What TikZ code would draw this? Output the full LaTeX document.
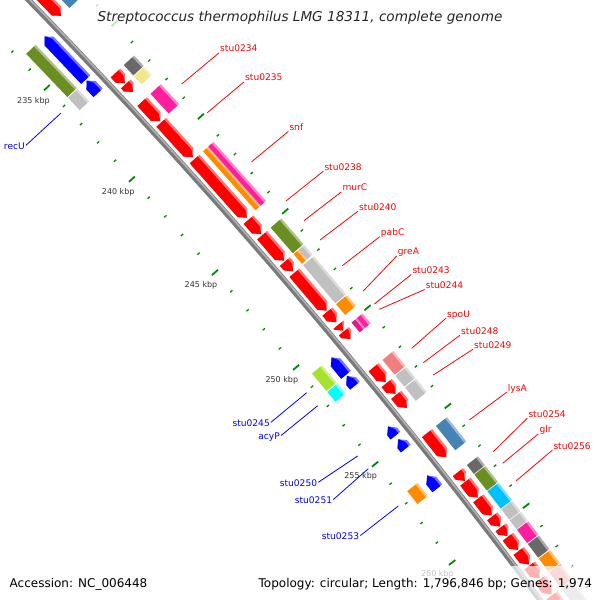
\documentclass[tikz,border=0pt]{standalone}
\usepackage{fontspec}
\setmainfont{DejaVu Sans}
\usetikzlibrary{math}

\definecolor{genered}{HTML}{FF0000}
\definecolor{geneblue}{HTML}{0000FF}
\definecolor{cogsteel}{HTML}{4682B4}
\definecolor{cogdim}{HTML}{696969}
\definecolor{cogkhaki}{HTML}{F0E68C}
\definecolor{cogpink}{HTML}{FF1E9E}
\definecolor{cogmagenta}{HTML}{E0188C}
\definecolor{cogorange}{HTML}{FF8C00}
\definecolor{cogolive}{HTML}{6B8E23}
\definecolor{cogsilver}{HTML}{C0C0C0}
\definecolor{cogcoral}{HTML}{F08080}
\definecolor{cogsky}{HTML}{00BFFF}
\definecolor{coglime}{HTML}{A6E22E}
\definecolor{cogcyan}{HTML}{00FFFF}
\definecolor{tickgreen}{HTML}{008A00}

\tikzset{
	genome map/.cd,
	backbone/.style = {
		line width = 5.5pt,
		color = black!52
	},
	highlight/.style = {
		line width = 1.6pt,
		color = black!30
	},
	tick/.style = {
		tickgreen,
		line cap = butt
	},
	kbp/.style = {
		font = \fontsize{8}{9}\selectfont,
		text = black!80,
		inner sep = 0.5pt,
		text height = 6pt,
		text depth = 0pt,
		fill = white,
		fill opacity = 0.6,
		text opacity = 1
	},
	fwdlabel/.style = {
		font = \fontsize{9.1}{11}\selectfont,
		text = red,
		inner sep = 1pt,
		text height = 6.6pt,
		text depth = 0pt,
		anchor = base west
	},
	revlabel/.style = {
		font = \fontsize{9.1}{11}\selectfont,
		text = blue,
		inner sep = 1pt,
		text height = 7.5pt,
		text depth = 0pt,
		anchor = base east
	},
	fwdleader/.style = {red, line width = 0.8pt},
	revleader/.style = {blue, line width = 0.8pt},
}

% point on the map: kbp, offset from the backbone
\newcommand\gp[3]{%
	\tikzmath{
		\ga = (#2 - \kref) * \kstep - \aref;
		\gx = \xc + (\rad + (#3)) * (\ga - \ga * \ga * \ga / 6);
		\gy = \yc + (#3) - (\rad + (#3)) * \ga * \ga / 2;
	}%
	\coordinate (#1) at (\gx, \gy);%
}

% gene arrow: start, end, inner, outer, strand, colour
\newcommand\garrow[6]{%
	\tikzmath{
		\gtl = min(\tiplen, (#2) - (#1));
		\gdm = ((#3) + (#4)) / 2;
		\gdl = (#4) - \bevel;
		if #5 > 0 then {
			\gtp = #2; \gbs = #1; \gsh = (#2) - \gtl;
		} else {
			\gtp = #1; \gbs = #2; \gsh = (#1) + \gtl;
		};
	}%
	\gp{ga1}{\gbs}{#3}\gp{ga2}{\gsh}{#3}\gp{ga3}{\gtp}{\gdm}%
	\gp{ga4}{\gsh}{#4}\gp{ga5}{\gbs}{#4}%
	\gp{gb4}{\gsh}{\gdl}\gp{gb5}{\gbs}{\gdl}%
	\fill[#6!55!white] (ga1) -- (ga2) -- (ga3) -- (ga4) -- (ga5) -- cycle;
	\fill[#6] (ga1) -- (ga2) -- (ga3) -- (gb4) -- (gb5) -- cycle;
}

% COG box: start, end, inner, outer, colour
\newcommand\gbox[5]{%
	\tikzmath{
		\gdl = (#4) - \bevel;
	}%
	\gp{gc1}{#1}{#3}\gp{gc2}{#2}{#3}\gp{gc3}{#2}{#4}\gp{gc4}{#1}{#4}%
	\gp{gd3}{#2}{\gdl}\gp{gd4}{#1}{\gdl}%
	\fill[#5!55!white] (gc1) -- (gc2) -- (gc3) -- (gc4) -- cycle;
	\fill[#5] (gc1) -- (gc2) -- (gd3) -- (gd4) -- cycle;
}

\begin{document}
\begin{tikzpicture}[x = 1pt, y = -1pt]
		\def\kref{235}
		\def\kstep{0.0041915}
		\def\aref{0.05302}
		\def\rad{6000}
		\def\xc{394.2}
		\def\yc{12.95}
		\def\tiplen{0.26}
		\def\bevel{2.5}
		\def\dinner{-47.5}
		\def\douter{45.7}
		\useasboundingbox (0, 0) rectangle (600, 600);
		\clip (0, 0) rectangle (600, 600);
		\begin{scope}[shift = {(28.5, 0)}, rotate = -49.55, y = 1pt]
			% ticks, every kbp
			\foreach \k in {228, ..., 268}{
				\tikzmath{
					int \m;
					\m = mod(\k, 5);
					if \m == 0 then { \tl = 8; \tw = 1.8; } else { \tl = 3; \tw = 1.3; };
				}
				\gp{tia}{\k}{\dinner - \tl / 2}
				\gp{tib}{\k}{\dinner + \tl / 2}
				\gp{toa}{\k}{\douter - \tl / 2}
				\gp{tob}{\k}{\douter + \tl / 2}
				\draw[genome map/tick, line width = \tw pt] (tia) -- (tib) (toa) -- (tob);
			}
			% backbone
			\foreach \k in {228, ..., 268}{
				\gp{bb\k}{\k}{0}
				\gp{bh\k}{\k}{1.2}
			}
			\draw[genome map/backbone] (bb228) \foreach \k in {229, ..., 268}{ -- (bb\k)};
			\draw[genome map/highlight] (bh228) \foreach \k in {229, ..., 268}{ -- (bh\k)};
			% forward strand, with COG box
			\foreach \ks/\ke/\cog in {230.4/233.32/cogsteel, 236.45/237.0/cogdim, 237.05/237.48/cogkhaki,
				238.0/239.06/cogpink, 245.12/246.45/cogolive, 247.08/249.05/cogsilver, 249.1/249.65/cogorange,
				251.97/252.72/cogcoral, 252.78/253.33/cogsilver, 253.38/254.05/cogsilver, 255.33/256.55/cogsteel,
				257.3/257.74/cogdim, 257.78/258.58/cogolive, 258.62/259.48/cogsky, 259.52/260.03/cogsilver,
				260.07/260.5/cogsilver, 260.54/261.2/cogpink, 261.25/261.92/cogdim, 261.97/262.6/cogorange,
				262.65/263.4/cogcoral, 263.45/264.4/cogsilver}{
				\garrow{\ks}{\ke}{6}{19}{1}{genered}
				\gbox{\ks}{\ke}{24}{38}{\cog}
			}
			% forward strand, no COG
			\foreach \ks/\ke in {239.12/240.98, 244.3/245.06, 249.78/250.08}{
				\garrow{\ks}{\ke}{6}{19}{1}{genered}
			}
			% forward strand, two COG classes
			\garrow{241.08}{244.2}{6}{19}{1}{genered}
			\gbox{241.08}{244.2}{24}{31}{cogorange}
			\gbox{241.08}{244.2}{31}{38}{cogpink}
			\garrow{246.5}{247.0}{6}{19}{1}{genered}
			\gbox{246.5}{247.0}{24}{31}{cogorange}
			\gbox{246.5}{247.0}{31}{38}{cogsilver}
			\garrow{250.12}{250.52}{6}{19}{1}{genered}
			\gbox{250.05}{250.55}{24}{31}{cogmagenta}
			\gbox{250.05}{250.55}{31}{38}{cogpink}
			% reverse strand, with COG box
			\foreach \ks/\ke/\cog in {233.45/235.83/cogolive, 235.88/236.55/cogsilver, 250.6/251.5/coglime,
				251.56/252.06/cogcyan, 256.65/257.3/cogorange}{
				\garrow{\ks}{\ke}{-20}{-7.5}{-1}{geneblue}
				\gbox{\ks}{\ke}{-39}{-26}{\cog}
			}
			% reverse strand, no COG
			\foreach \ks/\ke in {254.15/254.62, 254.8/255.28}{
				\garrow{\ks}{\ke}{-20}{-7.5}{-1}{geneblue}
			}
			% scale labels
			\foreach \k in {235, 240, ..., 260}{
				\gp{kl}{\k}{-66}
				\node[genome map/kbp] (kbp\k) at (kl) {\k\ kbp};
			}
		\end{scope}
		% gene labels
		\foreach \name/\lx/\ly/\px/\py in {stu0234/219/51.7/181.7/84, stu0235/244/80.7/207.3/112.7,
			snf/288.3/130.3/251.7/161.7, stu0238/323.3/170/286/201, murC/341.3/190.7/304/220.7,
			stu0240/358/210/320/240, pabC/379.7/235.5/342.3/265.7, greA/396.7/254.8/363.3/291,
			stu0243/411.3/273.3/374.3/304, stu0244/424.7/288.3/379.3/309.3, spoU/446/317/411.7/348.3,
			stu0248/460/334/423.3/362.7, stu0249/473/348/433.3/375, lysA/506.7/391/469.3/420,
			stu0254/527.3/417/493.3/451.7, glr/538.3/432.7/502.7/463.3, stu0256/552.3/449/516/481}{
			\node[genome map/fwdlabel] (l-\name) at (\lx, \ly) {\name};
			\coordinate (p-\name) at (\px, \py);
			\draw[genome map/fwdleader] (l-\name.south west) -- (p-\name);
		}
		\foreach \name/\lx/\ly/\px/\py in {recU/26/149/60.7/113.3, stu0245/271/426/306.7/392.7,
			acyP/281/439.3/317.7/405.7, stu0250/318.3/486/357.7/456, stu0251/333.3/503.3/368.3/468.7,
			stu0253/360.3/539.3/398.3/506}{
			\node[genome map/revlabel] (l-\name) at (\lx, \ly) {\name};
			\coordinate (p-\name) at (\px, \py);
			\draw[genome map/revleader] (l-\name.east) -- (p-\name);
		}
		% title and legend
		\fill[white, opacity = 0.75] (90, 0) rectangle (510, 33);
		\fill[white, opacity = 0.7] (0, 566) rectangle (600, 600);
		\node[font = \fontsize{13.6}{16}\selectfont\itshape, text = black!85, inner sep = 0pt] (title) at (300, 17.5) {Streptococcus thermophilus LMG 18311, complete genome};
		\node[font = \fontsize{12}{14}\selectfont, anchor = base west, inner sep = 0pt] (accession) at (9.5, 587) {Accession: NC\_006448};
		\node[font = \fontsize{12}{14}\selectfont, anchor = base east, inner sep = 0pt] (topology) at (592.3, 587) {Topology: circular; Length: 1,796,846 bp; Genes: 1,974};
\end{tikzpicture}
\end{document}
